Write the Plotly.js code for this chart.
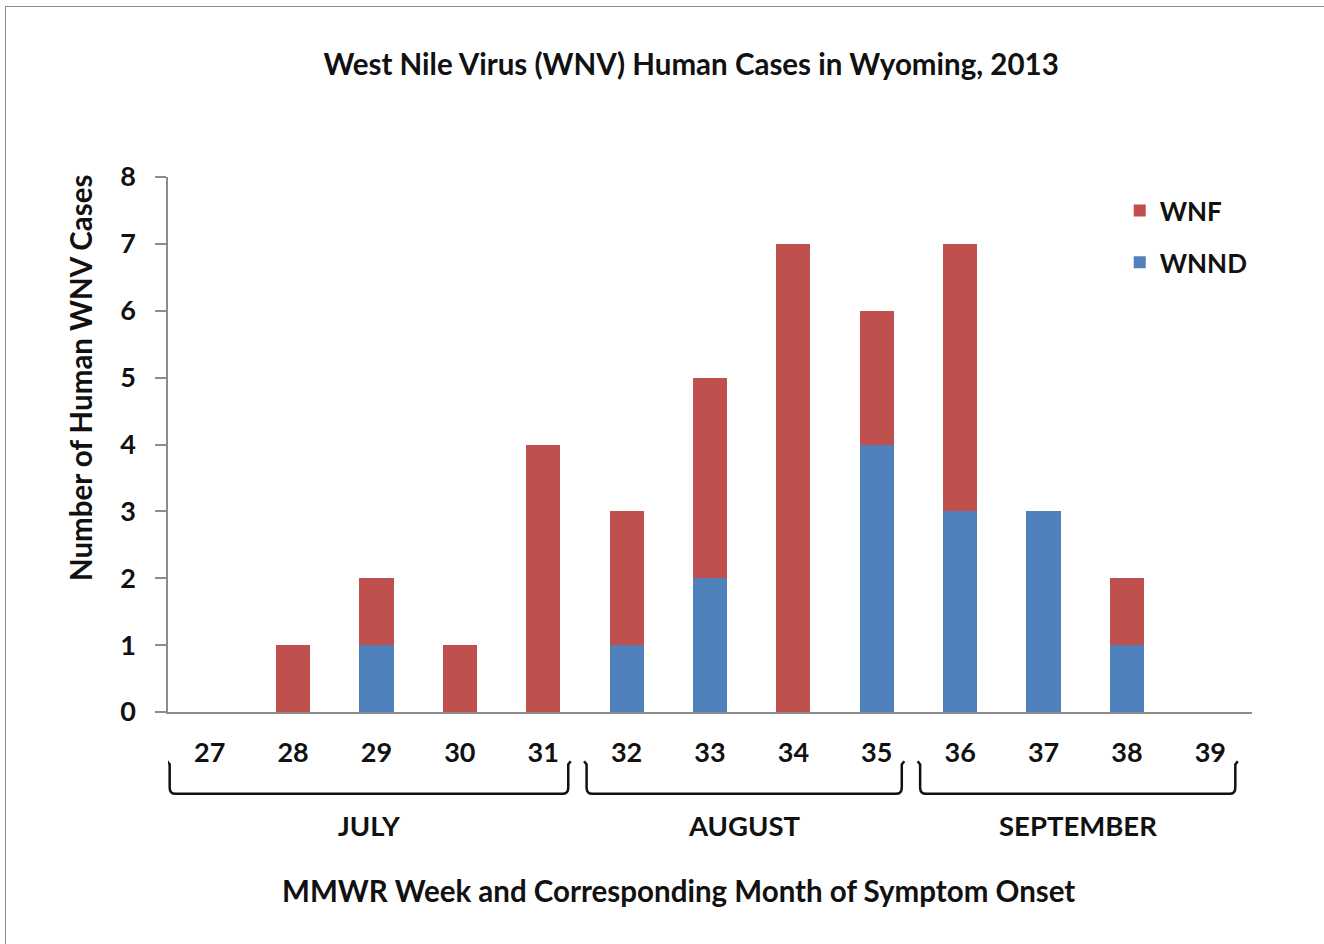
<!DOCTYPE html>
<html>
<head>
<meta charset="utf-8">
<script src="https://cdn.plot.ly/plotly-3.0.1.min.js"></script>
<style>
  html, body { margin: 0; padding: 0; background: #ffffff; }
  #wrap { position: relative; width: 1324px; height: 944px; overflow: hidden; }
  #chart { position: absolute; left: 0; top: 0; width: 1324px; height: 944px; }
  #frame { position: absolute; left: 5px; top: 6px; width: 1400px; height: 1000px;
           border-top: 1px solid #8c8c8c; border-left: 1px solid #8c8c8c; pointer-events: none; }
</style>
</head>
<body>
<div id="wrap">
  <div id="chart"></div>
  <div id="frame"></div>
</div>
<script>
// ---- Data ----
const weeks = [27, 28, 29, 30, 31, 32, 33, 34, 35, 36, 37, 38, 39];
const wnnd  = [0, 0, 1, 0, 0, 1, 2, 0, 4, 3, 3, 1, 0];
const wnf   = [0, 1, 1, 1, 4, 2, 3, 7, 2, 4, 0, 1, 0];
const months = ["JULY", "AUGUST", "SEPTEMBER"];
const monthFirstWeek = [27, 32, 36];
const monthLastWeek  = [31, 35, 39];
const yTicks = [0, 1, 2, 3, 4, 5, 6, 7, 8];

const FONT = "Lato, 'Open Sans', sans-serif";
const INK = "#111111";
const RED = "#C0504D";
const BLUE = "#4F81BD";

const traces = [
  { type: "bar", name: "WNND", x: weeks, y: wnnd, marker: { color: BLUE },
    legendgroup: "b", legendrank: 2, hoverinfo: "x+y+name" },
  { type: "bar", name: "WNF", x: weeks, y: wnf, marker: { color: RED },
    legendgroup: "a", legendrank: 1, hoverinfo: "x+y+name" }
];

// Brackets under the week labels, one per month
const yTop = -0.088, yBot = -0.153, ry = 0.012, rx = 0.07;
const shapes = [];
const annotations = [];
months.forEach((m, i) => {
  const x0 = monthFirstWeek[i] - 0.48;
  const x1 = monthLastWeek[i] + 0.3;
  const path = `M ${x0 - 0.03},${yTop - 0.004} L ${x0},${yTop - 0.01} L ${x0},${yBot + ry} Q ${x0},${yBot} ${x0 + rx},${yBot} ` +
               `L ${x1 - rx},${yBot} Q ${x1},${yBot} ${x1},${yBot + ry} L ${x1},${yTop - 0.01} L ${x1 + 0.03},${yTop - 0.004}`;
  shapes.push({ type: "path", xref: "x", yref: "paper", path: path,
                line: { color: INK, width: 2.5 } });
  annotations.push({ text: m, xref: "x", yref: "paper", x: (x0 + x1) / 2, y: -0.213,
                     xanchor: "center", yanchor: "middle", showarrow: false,
                     font: { family: FONT, size: 27.5, color: INK, weight: "bold" } });
});
annotations.push({ text: "MMWR Week and Corresponding Month of Symptom Onset",
  xref: "paper", yref: "paper", x: (678 - 168) / 1084, y: -0.333,
  xanchor: "center", yanchor: "middle", showarrow: false,
  font: { family: FONT, size: 29.5, color: INK, weight: "bold" } });
annotations.push({ text: "Number of Human WNV Cases",
  xref: "paper", yref: "paper", x: (80 - 168) / 1084, y: (712 - 378) / 535,
  xanchor: "center", yanchor: "middle", textangle: -90, showarrow: false,
  font: { family: FONT, size: 29.5, color: INK, weight: "bold" } });

const layout = {
  width: 1324, height: 944,
  paper_bgcolor: "#ffffff", plot_bgcolor: "#ffffff",
  margin: { l: 168, r: 72, t: 177, b: 232 },
  title: { text: "West Nile Virus (WNV) Human Cases in Wyoming, 2013",
           x: 0.522, xref: "container", xanchor: "center",
           y: 1 - 65 / 944, yref: "container", yanchor: "middle",
           font: { family: FONT, size: 29.5, color: INK, weight: "bold" } },
  barmode: "stack",
  bargap: 0.59,
  showlegend: true,
  legend: { x: 0.878, y: 0.981, xanchor: "left", yanchor: "top",
            traceorder: "grouped", tracegroupgap: 15,
            bgcolor: "rgba(0,0,0,0)",
            font: { family: FONT, size: 26, color: INK, weight: "bold" } },
  xaxis: { type: "linear", range: [26.5, 39.5], tickvals: weeks, ticktext: weeks.map(String),
           showgrid: false, zeroline: false, showline: true, linecolor: "#8c8c8c", linewidth: 1.5,
           ticks: "", ticklabelstandoff: 16, fixedrange: true,
           tickfont: { family: FONT, size: 27, color: INK, weight: "bold" } },
  yaxis: { range: [0, 8], tickvals: yTicks, showgrid: false, zeroline: false,
           showline: true, linecolor: "#8c8c8c", linewidth: 1.5,
           ticks: "outside", ticklen: 11, tickcolor: "#8c8c8c", tickwidth: 1.5,
           ticklabelstandoff: 14, fixedrange: true,
           tickfont: { family: FONT, size: 27, color: INK, weight: "bold" } },
  shapes: shapes,
  annotations: annotations
};

Plotly.newPlot("chart", traces, layout, { displayModeBar: false });
</script>
</body>
</html>
